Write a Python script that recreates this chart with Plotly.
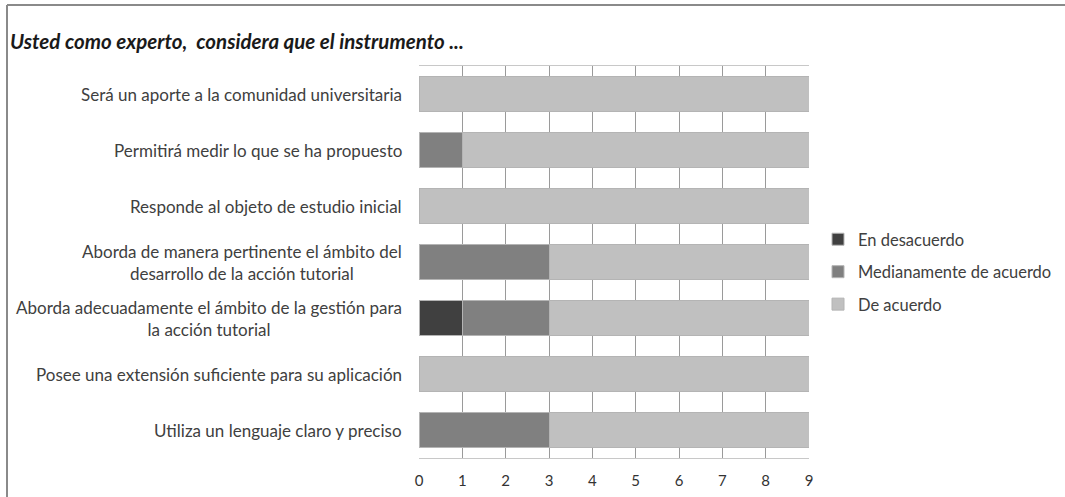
import plotly.graph_objects as go

categories = [
    "Será un aporte a la comunidad universitaria",
    "Permitirá medir lo que se ha propuesto",
    "Responde al objeto de estudio inicial",
    "Aborda de manera pertinente el ámbito del<br>desarrollo de la acción tutorial",
    "Aborda adecuadamente el ámbito de la gestión para<br>la acción tutorial",
    "Posee una extensión suficiente para su aplicación",
    "Utiliza un lenguaje claro y preciso",
]
en_desacuerdo = [0, 0, 0, 0, 1, 0, 0]
medianamente = [0, 1, 0, 3, 2, 0, 3]
de_acuerdo = [9, 8, 9, 6, 6, 9, 6]
x_ticks = [0, 1, 2, 3, 4, 5, 6, 7, 8, 9]

series = [
    ("En desacuerdo", en_desacuerdo, "#404040"),
    ("Medianamente de acuerdo", medianamente, "#808080"),
    ("De acuerdo", de_acuerdo, "#c0c0c0"),
]

FONT = "Lato, 'Open Sans', sans-serif"
W, H = 1065, 497
L, R, T, B = 419, 256, 66, 39
PW, PH = W - L - R, H - T - B


def px_x(x):
    return (x - L) / PW


def px_y(y):
    return (H - B - y) / PH


fig = go.Figure()
for name, vals, color in series:
    fig.add_trace(go.Bar(
        y=categories, x=vals, name=name, orientation="h",
        legendgroup=name,
        marker=dict(color=color, line=dict(color="#b4b4b4", width=1)),
    ))

# category labels, centred line by line like the wrapped originals
for cat in categories:
    fig.add_annotation(
        text=cat, x=px_x(404), xref="paper", xanchor="right",
        y=cat, yref="y", yanchor="middle", align="center",
        showarrow=False, font=dict(size=17, color="#404040"),
    )

fig.update_layout(
    barmode="stack",
    bargap=0.39,
    width=W, height=H,
    margin=dict(l=L, r=R, t=T, b=B, autoexpand=False),
    paper_bgcolor="white",
    plot_bgcolor="white",
    font=dict(family=FONT, size=17, color="#404040"),
    title=dict(
        text="<b><i>Usted como experto,  considera que el instrumento ...</i></b>",
        x=10 / W, xanchor="left", y=1 - 42 / H, yanchor="middle",
        font=dict(family=FONT, size=20.5, color="#1a1a1a"),
    ),
    legend=dict(
        xref="container", yref="container",
        x=818 / W, xanchor="left", y=1 - 272 / H, yanchor="middle",
        traceorder="grouped", font=dict(size=16.5, color="#404040"),
        itemwidth=30, tracegroupgap=8, bgcolor="rgba(0,0,0,0)",
    ),
    xaxis=dict(
        range=[0, 9], tickvals=x_ticks, showgrid=True, gridcolor="#9a9a9a",
        gridwidth=1, zeroline=False, showline=True, linecolor="#c8c8c8",
        ticks="outside", ticklen=9, tickcolor="rgba(0,0,0,0)",
        tickfont=dict(size=15, color="#333333"), mirror=True,
    ),
    yaxis=dict(
        autorange="reversed", showgrid=False, zeroline=False,
        showline=False, ticks="", showticklabels=False,
    ),
    shapes=[
        # chart frame: top and left edges
        dict(type="line", xref="paper", yref="paper",
             x0=px_x(7), x1=px_x(W), y0=px_y(5), y1=px_y(5),
             line=dict(color="#8a8a8a", width=2)),
        dict(type="line", xref="paper", yref="paper",
             x0=px_x(7), x1=px_x(7), y0=px_y(5), y1=px_y(H),
             line=dict(color="#8a8a8a", width=2)),
    ],
)

fig.write_html("out.html")
